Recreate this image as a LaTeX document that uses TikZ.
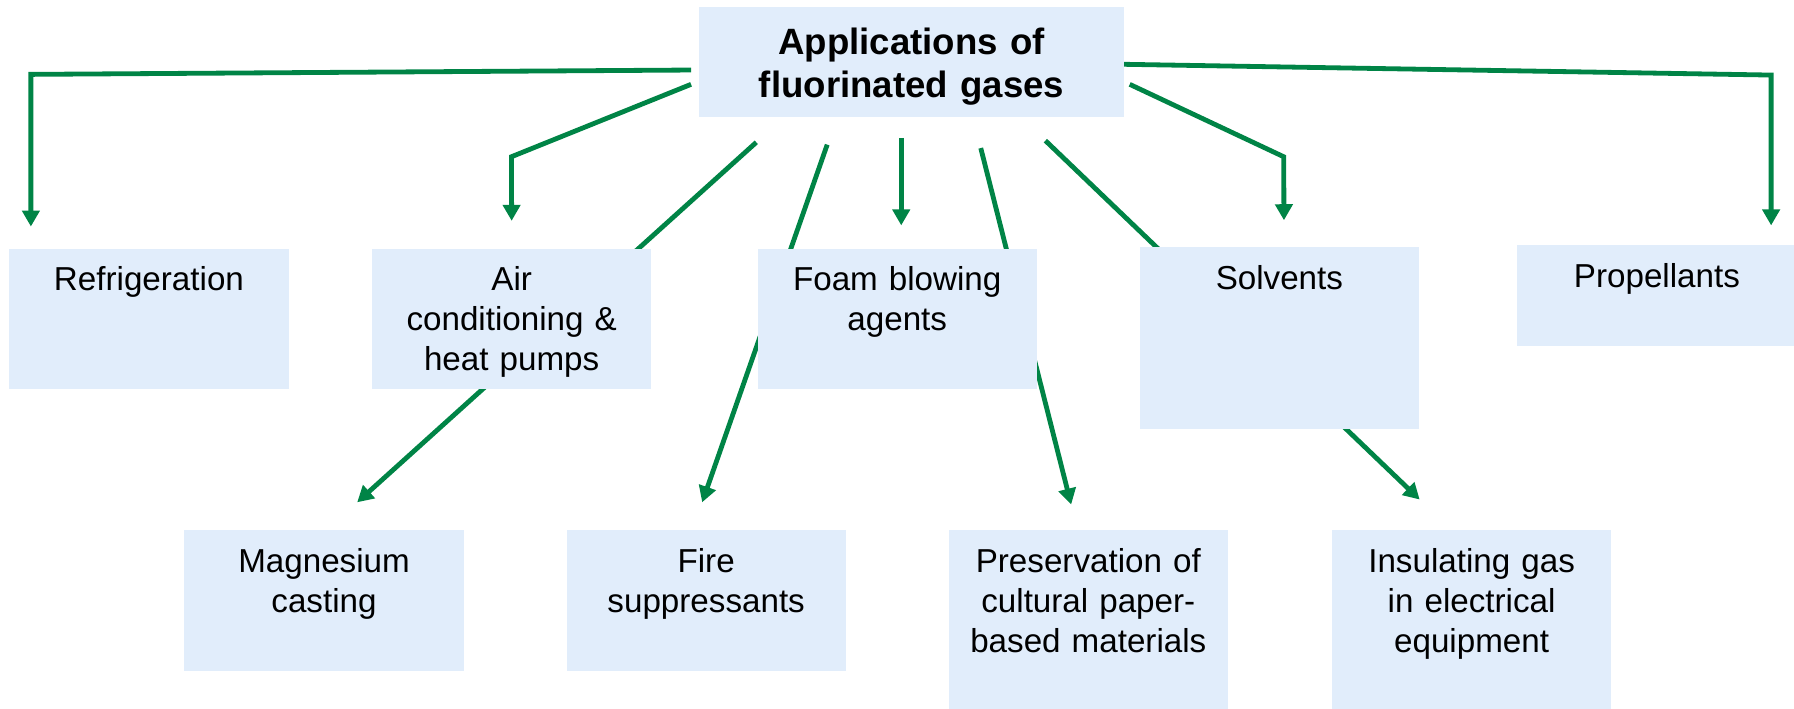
\documentclass[tikz,border=0pt]{standalone}
\usepackage{fontspec}
\setmainfont{Liberation Sans}
\usepackage{tikz}
\usetikzlibrary{arrows,arrows.meta,positioning,calc,backgrounds}
\definecolor{appblue}{RGB}{225,237,251}
\definecolor{appgreen}{RGB}{0,132,70}
\tikzstyle{appbox}=[fill=appblue,inner sep=0pt,text width=244pt,align=center,anchor=north west,text height=37pt,font=\fontsize{29pt}{35pt}\selectfont]
\tikzstyle{link}=[draw=appgreen,line width=4.2pt,-{Triangle[width=15pt,length=14pt]}]

\begin{document}
\begin{tikzpicture}[x=1pt,y=-1pt]
\useasboundingbox (0,0) rectangle (1568,619);
\node [appbox,text width=371pt,text height=41pt,text depth=55pt,font=\fontsize{32pt}{38pt}\selectfont\bfseries] (apps) at (611,6) {Applications of\\fluorinated gases};

\node [appbox,text depth=86pt] (refr) at (8,217) {Refrigeration};
\node [appbox,text depth=86pt] (aircon) at (325,217) {Air\\conditioning \&\\heat pumps};
\node [appbox,text depth=86pt] (foam) at (662,217) {Foam blowing\\agents};
\node [appbox,text depth=122pt] (solv) at (996,216) {Solvents};
\node [appbox,text depth=51pt] (prop) at (1326,214) {Propellants};

\node [appbox,text depth=86pt] (magn) at (161,463) {Magnesium\\casting};
\node [appbox,text depth=86pt] (fire) at (495,463) {Fire\\suppressants};
\node [appbox,text depth=123pt] (pres) at (829,463) {Preservation of\\cultural paper-\\based materials};
\node [appbox,text depth=123pt] (insul) at (1164,463) {Insulating gas\\in electrical\\equipment};

\begin{scope}[on background layer]
\draw [link] ([shift={(-7,7)}]apps.west) -- (27,65) -- ([shift={(19,-19)}]refr.north west);
\draw [link] ([shift={(-7,19.5)}]apps.west) -- (447,137) -- ([shift={(0,-24)}]aircon.north);
\draw [link] ([shift={(50,22)}]apps.south west) -- ([shift={(29,-24)}]magn.north);
\draw [link] ([shift={(112,24)}]apps.south west) -- ([shift={(-3.5,-24)}]fire.north);
\draw [link] ([shift={(-9,18)}]apps.south) -- ([shift={(3.5,-20)}]foam.north);
\draw [link] ([shift={(60.5,27)}]apps.south) -- ([shift={(-15,-22)}]pres.north);
\draw [link] ([shift={(117,20.5)}]apps.south) -- ([shift={(-45.4,-26.4)}]insul.north);
\draw [link] ([shift={(5,19.5)}]apps.east) -- (1122,137) -- ([shift={(4,-23.5)}]solv.north);
\draw [link] ([shift={(0,2)}]apps.east) -- (1548,65.6) -- ([shift={(222,-17)}]prop.north west);
\end{scope}
\end{tikzpicture}
\end{document}
